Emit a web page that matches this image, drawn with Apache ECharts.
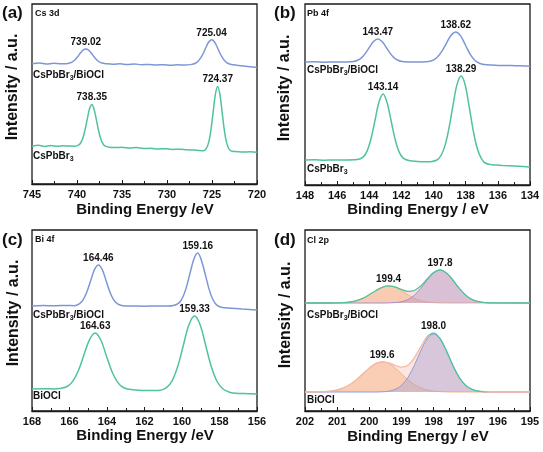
<!DOCTYPE html>
<html>
<head>
<meta charset="utf-8">
<script src="https://cdn.jsdelivr.net/npm/echarts@6/dist/echarts.min.js"></script>
<style>
html,body{margin:0;padding:0;background:#fff;}
#c{width:543px;height:452px;}
</style>
</head>
<body>
<div id="c"></div>
<script>
// ---------- Data (energy eV, intensity a.u.) ----------
// (a) Cs 3d
const csBlendA = [[745,121],[744.2,121.6],[743.4,120.7],[742.6,121.3],[741.8,120.9],[741.22,121],[740.82,121.6],[740.52,122.8],[740.22,125],[739.92,128.1],[739.62,131.7],[739.32,134.6],[739.02,135.8],[738.72,134.6],[738.42,131.7],[738.12,128.1],[737.82,125],[737.52,122.8],[737.22,121.6],[736.82,121],[736,120.4],[735.2,120.8],[734.4,120.2],[733.6,120.7],[732.8,119.9],[732,120.2],[731.2,119.7],[730.4,120],[729.6,119.5],[728.8,119.9],[728,119.6],[727.24,120.3],[726.84,121.4],[726.54,123.4],[726.24,127],[725.94,132],[725.64,138],[725.34,143],[725.04,145],[724.74,143],[724.44,138],[724.14,132],[723.84,127],[723.54,123.4],[723.24,121.4],[722.84,120.2],[722.2,119.4],[721.5,118.6],[720.8,117.8],[720,117.2]];
const csPureA = [[745,38],[744.3,39],[743.6,37.8],[742.9,38.6],[742.2,37.9],[741.5,38.4],[740.8,38.1],[740.25,38],[739.85,39],[739.6,41.2],[739.35,46],[739.1,54.6],[738.85,65.8],[738.6,75.9],[738.35,80],[738.1,75],[737.85,64.8],[737.6,53.6],[737.35,45],[737.1,40.2],[736.85,38],[736.45,37],[735.8,36.6],[735,36.9],[734.2,36.2],[733.4,36.6],[732.6,35.7],[731.8,35.9],[731,35.2],[730.2,35.5],[729.4,34.8],[728.6,35],[727.8,34.4],[727,34.1],[726.4,33.6],[725.97,33.4],[725.62,35.9],[725.37,41.8],[725.12,54],[724.87,72.5],[724.62,90.3],[724.37,98],[724.12,90],[723.87,72],[723.62,53.5],[723.37,41.3],[723.12,35.4],[722.77,32.9],[722.2,32.5],[721.5,32.2],[720.8,32.4],[720,32]];
const peaksBlendA = [['739.02',739.02,135.8],['725.04',725.04,145]];
const peaksPureA = [['738.35',738.35,80],['724.37',724.37,98]];

// (b) Pb 4f
const pbBlendB = [[148,123],[147.4,123.3],[146.8,122.8],[146.2,123],[145.6,122.9],[145.37,123.1],[144.97,123.6],[144.72,124.7],[144.47,127.4],[144.22,132.1],[143.97,138.2],[143.72,143.7],[143.47,146],[143.22,143.7],[142.97,138.2],[142.72,132.1],[142.47,127.4],[142.22,124.7],[141.97,123.6],[141.57,123.1],[141,123],[140.52,123.2],[140.12,124.3],[139.82,127],[139.52,132.8],[139.22,141.2],[138.92,149.5],[138.62,153],[138.32,149.1],[138.02,140],[137.72,130.7],[137.42,124.5],[137.12,121.5],[136.72,120.2],[136,119.6],[135.2,119.4],[134.6,119.2],[134,119]];
const pbPureB = [[148,25],[147.4,25.3],[146.8,24.8],[146.2,25.1],[145.5,25],[144.74,25.4],[144.39,27.9],[144.14,33.9],[143.89,46.5],[143.64,65],[143.39,83.2],[143.14,91],[142.89,82.2],[142.64,64],[142.39,45.5],[142.14,32.9],[141.89,26.9],[141.54,24.4],[141,23.5],[140.5,23.2],[140.19,23.3],[139.79,25],[139.54,29.5],[139.29,39.4],[139.04,57],[138.79,79.8],[138.54,100.6],[138.29,109],[138.04,100.5],[137.79,78.8],[137.54,55],[137.29,37],[137.04,26.8],[136.79,22],[136.39,20.3],[135.7,19.6],[135,19],[134.4,18.4],[134,18]];
const peaksBlendB = [['143.47',143.47,146],['138.62',138.62,153]];
const peaksPureB = [['143.14',143.14,91],['138.29',138.29,109]];

// (c) Bi 4f
const biBlendC = [[168,105],[167.4,105.4],[166.8,105.2],[166.2,105.6],[165.76,105.3],[165.46,107.4],[165.26,111.7],[165.06,119.8],[164.86,131.1],[164.66,141.6],[164.46,146],[164.26,141.6],[164.06,131.1],[163.86,119.8],[163.66,111.7],[163.46,107.4],[163.16,105.3],[162.6,105],[162,104.8],[161.4,105],[160.8,104.9],[160.46,105.4],[160.16,108.1],[159.96,113.7],[159.76,124.1],[159.56,138.7],[159.36,152.3],[159.16,158],[158.96,150.3],[158.76,136.7],[158.56,122.1],[158.36,111.7],[158.16,106.1],[157.86,103.4],[157.4,102.8],[156.8,102],[156.4,101.5],[156,101]];
const biPureC = [[168,22],[167.4,22.3],[166.8,22],[166.53,22.4],[166.13,24.5],[165.83,29.6],[165.53,40.2],[165.23,56],[164.93,71.4],[164.63,78],[164.33,71],[164.03,55],[163.73,39.2],[163.43,28.6],[163.13,23.5],[162.73,21.4],[162,20.5],[161.6,20.4],[161.23,20.5],[160.83,23.3],[160.53,30.1],[160.23,44.4],[159.93,65.5],[159.63,86.2],[159.33,95],[159.03,86],[158.73,65],[158.43,44],[158.13,29.5],[157.83,22.3],[157.43,18.5],[157,17.6],[156.5,17.3],[156,17]];
const peaksBlendC = [['164.46',164.46,146],['159.16',159.16,158]];
const peaksPureC = [['164.63',164.63,78],['159.33',159.33,95]];

// (d) Cl 2p
const energyD = [202,201.6,201.4,201.2,201.0,200.8,200.6,200.4,200.2,200.0,199.8,199.6,199.4,199.2,199.0,198.8,198.6,198.4,198.2,198.0,197.8,197.6,197.4,197.2,197.0,196.8,196.6,196.4,196.2,195];
const envBlendD  = [108,108,108,108,108.1,108.3,109,110.3,112.7,116.3,120.3,123.7,125.1,124.1,121.6,119.7,120.5,124.9,132,138.4,141.1,138.1,131,122.6,115.8,111.4,109.3,108.4,108.1,108];
const orgBlendD  = [108,108,108,108,108.1,108.3,109,110.3,112.7,116.3,120.3,123.7,125,123.7,120.3,116.3,112.7,110.3,109,108.3,108.1,108,108,108,108,108,108,108,108,108];
const purBlendD  = [108,108,108,108,108,108,108,108,108,108,108,108,108.1,108.4,109.3,111.4,115.8,122.6,131,138.1,141,138.1,131,122.6,115.8,111.4,109.3,108.4,108.1,108];
const envPureD   = [19,19.1,19.3,19.9,21,23.1,26.5,31.3,37.2,43,47.4,49.2,48.2,45.6,43.8,45.7,53.1,64.1,74.2,77.9,72.5,60.1,45.6,33.4,25.6,21.6,19.8,19.2,19,19];
const orgPureD   = [19,19.1,19.3,19.9,21,23.1,26.5,31.3,37.2,43,47.4,49,47.4,43,37.2,31.3,26.5,23.1,21,19.9,19.3,19.1,19,19,19,19,19,19,19,19];
const purPureD   = [19,19,19,19,19,19,19,19,19,19,19,19.2,19.8,21.6,25.6,33.4,45.6,60,72.2,77,72.2,60,45.6,33.4,25.6,21.6,19.8,19.2,19,19];
const baseBlendD = 108, basePureD = 19;
const peaksBlendD = [['199.4',199.4,125],['197.8',197.8,141.1]];
const peaksPureD = [['199.6',199.6,49.2],['198.0',198.0,77.9]];

// axis ranges / ticks
const xRanges = [[720,745,5],[134,148,2],[156,168,2],[195,202,1]];

// ---------- Chart ----------
const FF = '"Liberation Sans", Arial, Helvetica, sans-serif';
const BLUE = '#7d97d6', GREEN = '#4fc49b';
const grids = [
  {left:32, top:4, width:225, height:180},
  {left:305, top:4, width:225, height:181},
  {left:32, top:230, width:225, height:181},
  {left:305, top:230, width:225, height:181}
];
const zip = (xs, ys) => xs.map((x,i)=>[x, ys[i]]);

function mp(peaks){
  return {
    symbol:'circle', symbolSize:0, silent:true, animation:false,
    label:{show:true, position:'top', distance:2, color:'#111', fontWeight:'bold', fontSize:10, fontFamily:FF, formatter:p=>p.name},
    data: peaks.map(p=>({name:p[0], coord:[p[1],p[2]]}))
  };
}
function line(data, color, gi, peaks, extra){
  const s = {type:'line', xAxisIndex:gi, yAxisIndex:gi, data:data, smooth:0.35, symbol:'none',
    lineStyle:{color:color, width:1.5}, z:5};
  if (peaks) s.markPoint = mp(peaks);
  return Object.assign(s, extra||{});
}
const PINK = '#f2b9a4';
const envPureLine = new echarts.graphic.LinearGradient(0,0,1,0,[
  {offset:0, color:PINK},{offset:0.53, color:PINK},{offset:0.56, color:GREEN},
  {offset:0.77, color:GREEN},{offset:0.81, color:PINK},{offset:1, color:PINK}
]);

const series = [
  line(csBlendA, BLUE, 0, peaksBlendA),
  line(csPureA, GREEN, 0, peaksPureA),
  line(pbBlendB, BLUE, 1, peaksBlendB),
  line(pbPureB, GREEN, 1, peaksPureB),
  line(biBlendC, BLUE, 2, peaksBlendC),
  line(biPureC, GREEN, 2, peaksPureC),
  // (d) envelopes filled
  line(zip(energyD, envBlendD), 'rgba(0,0,0,0)', 3, null, {lineStyle:{width:0}, areaStyle:{origin:baseBlendD, color:'rgba(247,190,180,0.65)'}, z:2}),
  line(zip(energyD, orgBlendD), '#f3b488', 3, null, {lineStyle:{color:'#f3b488', width:1}, areaStyle:{origin:baseBlendD, color:'rgba(247,175,125,0.62)'}, z:3}),
  line(zip(energyD, purBlendD), '#a58fc6', 3, null, {lineStyle:{color:'#a58fc6', width:1}, areaStyle:{origin:baseBlendD, color:'rgba(165,140,200,0.55)'}, z:4}),
  line(zip(energyD, envBlendD), GREEN, 3, peaksBlendD, {lineStyle:{color:GREEN, width:1.3}, z:6}),
  line(zip(energyD, envPureD), 'rgba(0,0,0,0)', 3, null, {lineStyle:{width:0}, areaStyle:{origin:basePureD, color:'rgba(247,196,182,0.6)'}, z:2}),
  line(zip(energyD, orgPureD), '#f3b488', 3, null, {lineStyle:{color:'#f3b488', width:1}, areaStyle:{origin:basePureD, color:'rgba(247,175,125,0.62)'}, z:3}),
  line(zip(energyD, purPureD), '#8f9bd6', 3, null, {lineStyle:{color:'#8f9bd6', width:1}, areaStyle:{origin:basePureD, color:'rgba(160,150,210,0.55)'}, z:4}),
  line(zip(energyD, envPureD), PINK, 3, peaksPureD, {lineStyle:{color:envPureLine, width:1.3}, z:6})
];

const xAxis = xRanges.map((r,i)=>({
  type:'value', gridIndex:i, min:r[0], max:r[1], interval:r[2], inverse:true,
  axisLine:{show:true, lineStyle:{color:'#1a1a1a', width:1.3}},
  axisTick:{show:true, inside:true, length:4, lineStyle:{color:'#1a1a1a', width:1}},
  minorTick:{show:true, splitNumber:2, length:3, lineStyle:{color:'#1a1a1a', width:1}},
  splitLine:{show:false},
  axisLabel:{show:true, margin:5, color:'#111', fontSize:11, fontWeight:'bold', fontFamily:FF}
}));
const yAxis = grids.map((g,i)=>({type:'value', gridIndex:i, min:0, max:181, show:false}));

function txt(text, x, y, size, extra){
  return Object.assign({type:'text', x:x, y:y, silent:true, style:{text:text, fill:'#111',
    font:'bold '+size+'px '+FF, align:'left', verticalAlign:'middle', textAlign:'left', textVerticalAlign:'middle'}}, extra||{});
}
function rtxt(text, x, y){
  return {type:'text', x:x, y:y, silent:true, style:{text:text, fill:'#111', align:'left', verticalAlign:'middle',
    textAlign:'left', textVerticalAlign:'middle', font:'bold 10px '+FF,
    rich:{m:{fontSize:10, fontWeight:'bold', fontFamily:FF, lineHeight:14, fill:'#111'},
          s:{fontSize:7, fontWeight:'bold', fontFamily:FF, verticalAlign:'bottom', lineHeight:14, fill:'#111'}}}};
}
function ctxt(text, x, y, size, rot){
  return {type:'text', x:x, y:y, rotation:rot||0, silent:true, style:{text:text, fill:'#111',
    font:'bold '+size+'px '+FF, align:'center', verticalAlign:'middle', textAlign:'center', textVerticalAlign:'middle'}};
}
const blendLbl = '{m|CsPbBr}{s|3}{m|/BiOCl}';
const pureLbl = '{m|CsPbBr}{s|3}';
const graphic = [
  txt('(a)', 2, 13, 17), txt('Cs 3d', 35, 14, 9), rtxt(blendLbl, 33, 75), rtxt(pureLbl, 33, 156),
  txt('(b)', 274, 13, 17), txt('Pb 4f', 307, 14, 9), rtxt(blendLbl, 307, 70), rtxt(pureLbl, 307, 169),
  txt('(c)', 2, 240, 17), txt('Bi 4f', 35, 240, 9), rtxt(blendLbl, 33, 315), txt('BiOCl', 33, 396, 10),
  txt('(d)', 274, 240, 17), txt('Cl 2p', 307, 241, 9), rtxt(blendLbl, 307, 315), txt('BiOCl', 307, 400, 10),
  ctxt('Binding Energy /eV', 145, 210, 15), ctxt('Binding Energy / eV', 418, 210, 15),
  ctxt('Binding Energy /eV', 145, 436, 15), ctxt('Binding Energy / eV', 418, 437, 15),
  ctxt('Intensity / a.u.', 13, 87, 16, Math.PI/2), ctxt('Intensity / a.u.', 285, 88, 16, Math.PI/2),
  ctxt('Intensity / a.u.', 14, 313, 16, Math.PI/2), ctxt('Intensity / a.u.', 286, 315, 16, Math.PI/2)
];

const chart = echarts.init(document.getElementById('c'), null, {renderer:'canvas'});
chart.setOption({
  animation:false,
  backgroundColor:'#fff',
  grid: grids.map(g=>Object.assign({show:true, borderColor:'#1a1a1a', borderWidth:1.3, backgroundColor:'transparent'}, g)),
  xAxis: xAxis,
  yAxis: yAxis,
  series: series,
  graphic: graphic
});
</script>
</body>
</html>
